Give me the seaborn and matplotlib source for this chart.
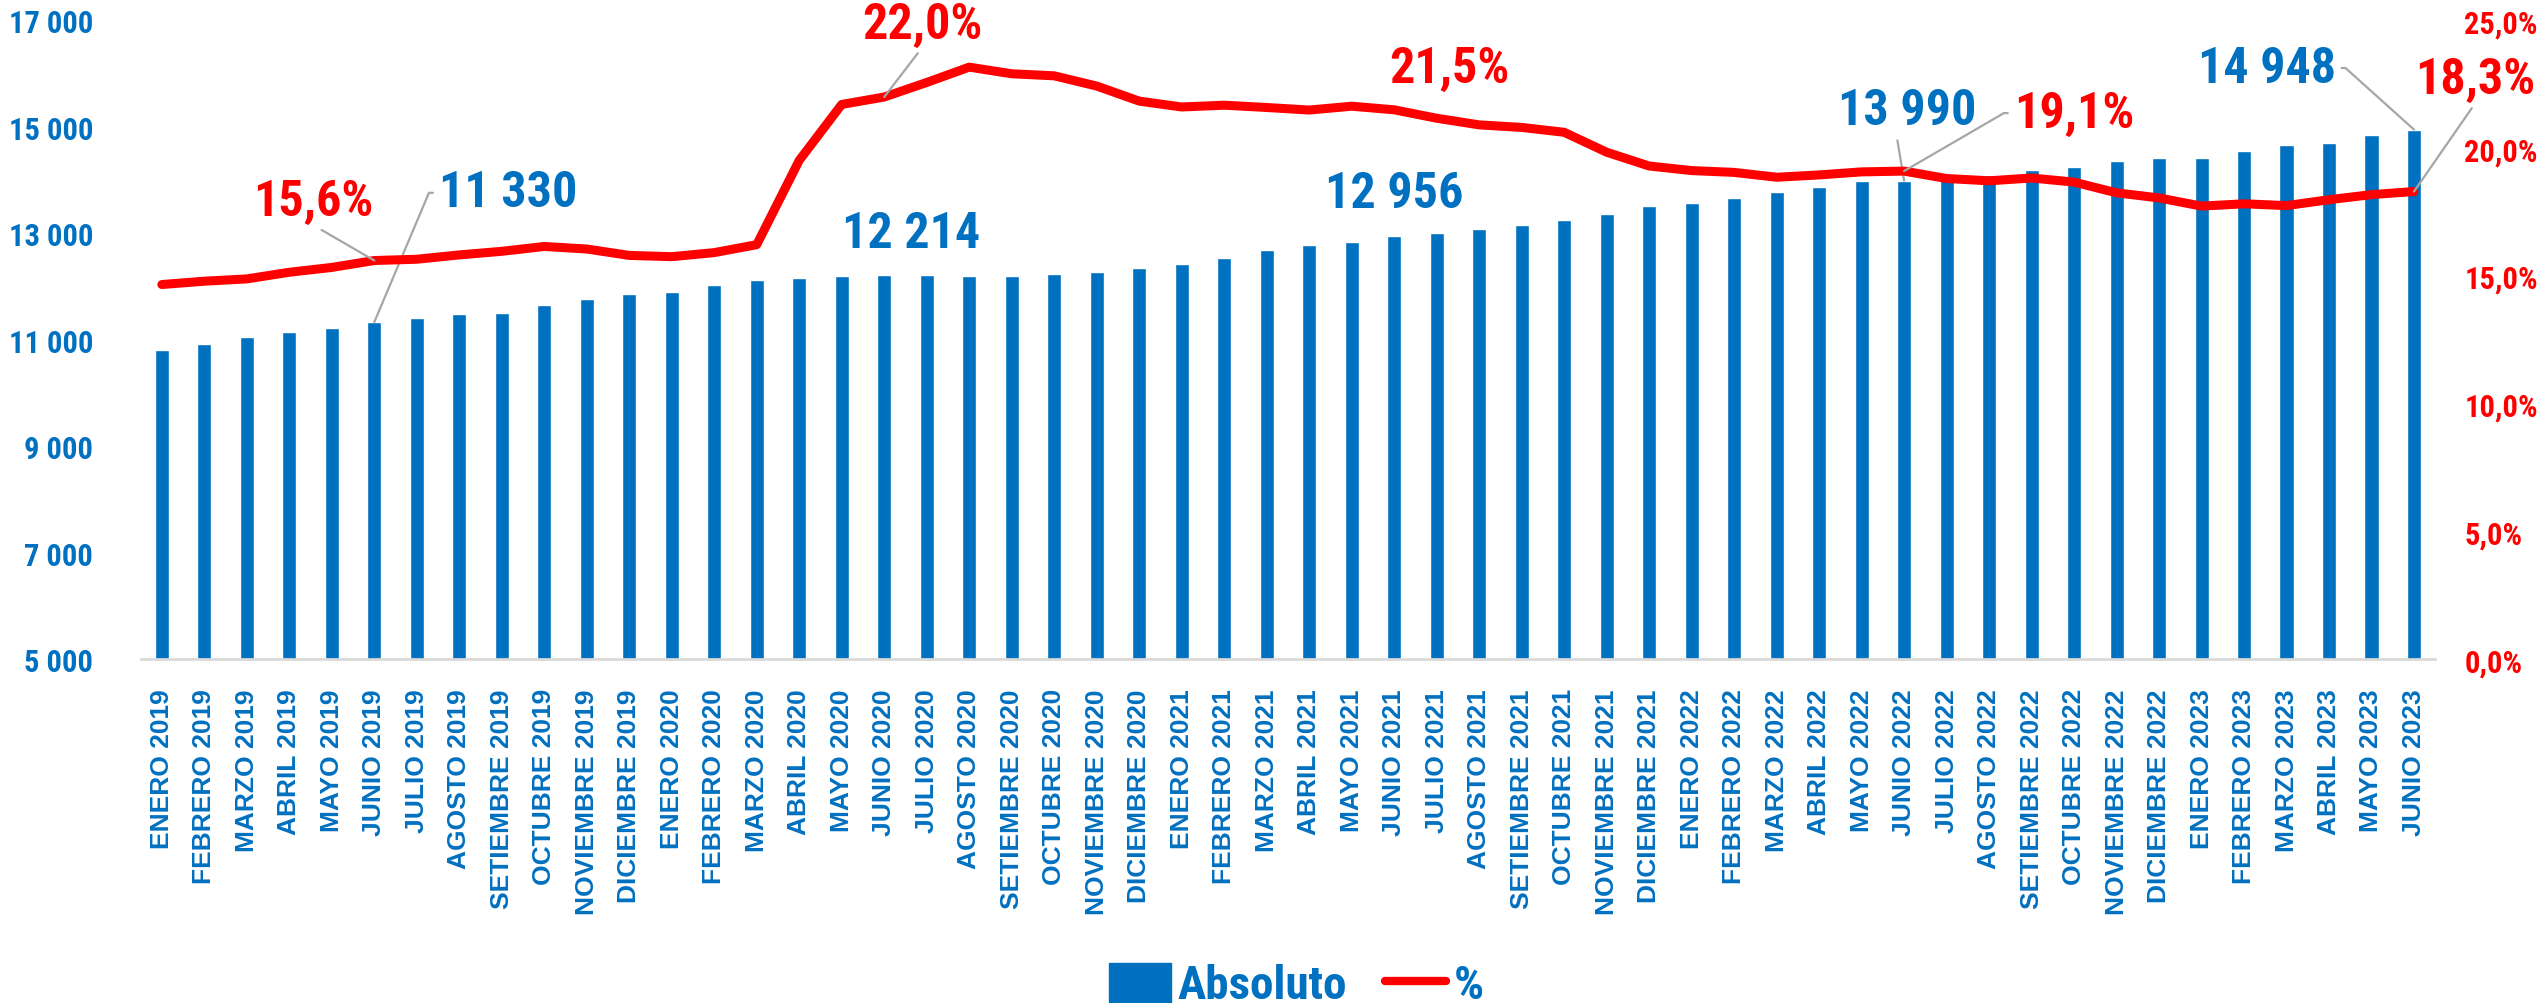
import numpy as np
import pandas as pd
import seaborn as sns
import matplotlib.pyplot as plt
from matplotlib import font_manager as fm
from matplotlib.patches import Patch
from matplotlib.lines import Line2D

# datos
meses = ["ENERO", "FEBRERO", "MARZO", "ABRIL", "MAYO", "JUNIO", "JULIO", "AGOSTO",
         "SETIEMBRE", "OCTUBRE", "NOVIEMBRE", "DICIEMBRE"]
periodos = [f"{m} {a}" for a in (2019, 2020, 2021, 2022, 2023) for m in meses][:54]

absoluto = [10800, 10925, 11050, 11142, 11225, 11330, 11417, 11484, 11500, 11651, 11768, 11851,
            11901, 12035, 12127, 12160, 12202, 12214, 12220, 12200, 12205, 12230, 12270, 12345,
            12427, 12544, 12686, 12786, 12836, 12956, 13003, 13078, 13153, 13253, 13370, 13504,
            13562, 13670, 13779, 13870, 13985, 13990, 14040, 14096, 14188, 14246, 14355, 14421,
            14421, 14555, 14655, 14697, 14839, 14948]

porcentaje = [14.66, 14.79, 14.88, 15.14, 15.33, 15.6, 15.65, 15.82, 15.96, 16.15, 16.05, 15.80,
              15.75, 15.91, 16.22, 19.52, 21.71, 22.0, 22.57, 23.17, 22.91, 22.83, 22.43, 21.84,
              21.61, 21.68, 21.59, 21.49, 21.64, 21.5, 21.17, 20.91, 20.81, 20.62, 19.84, 19.30,
              19.12, 19.05, 18.86, 18.95, 19.07, 19.1, 18.81, 18.72, 18.83, 18.67, 18.25, 18.05,
              17.73, 17.82, 17.75, 17.98, 18.18, 18.3]

df = pd.DataFrame({"periodo": periodos, "absoluto": absoluto,
                   "pct": porcentaje, "pos": range(len(periodos))})

AZUL = "#0070C0"
ROJO = "#FF0000"

nombres = {f.name for f in fm.fontManager.ttflist}
narrow = next((n for n in ["Liberation Sans Narrow", "Roboto Condensed", "DejaVu Sans Condensed",
                           "Open Sans Condensed", "Liberation Sans"] if n in nombres), "DejaVu Sans")
wide = "Liberation Sans" if "Liberation Sans" in nombres else "DejaVu Sans"

sns.set_style("white")
plt.rcParams["font.family"] = [narrow, "DejaVu Sans"]

fig = plt.figure(figsize=(25.42, 10.04), dpi=100)
ax = fig.add_axes([0.0553, 0.3426, 0.9027, 0.6361])

sns.barplot(data=df, x="periodo", y="absoluto", color=AZUL, width=0.33,
            saturation=1, ax=ax, zorder=2)
ax.set_ylim(5000, 17000)
ax.set_xlim(-0.5, len(periodos) - 0.5)
ax.set_yticks(range(5000, 17001, 2000))
ax.set_yticklabels([f"{v:,}".replace(",", " ") for v in range(5000, 17001, 2000)],
                   color=AZUL, fontsize=22, fontweight="bold", family=narrow)
ax.set_xticks(range(len(periodos)))
ax.set_xticklabels(periodos, rotation=90, color=AZUL, fontsize=19,
                   fontweight="bold", family=wide, va="top", ha="center")
ax.tick_params(axis="x", length=0, pad=21)
ax.tick_params(axis="y", length=0, pad=34)
ax.set_xlabel("")
ax.set_ylabel("")
for s in ["top", "left", "right"]:
    ax.spines[s].set_visible(False)
ax.spines["bottom"].set_color("#D9D9D9")
ax.spines["bottom"].set_linewidth(2)

ax2 = ax.twinx()
sns.lineplot(data=df, x="pos", y="pct", color=ROJO, linewidth=6.5, ax=ax2, zorder=3)
ax2.set_ylim(0, 25)
ax2.set_yticks(np.arange(0, 25.1, 5))
ax2.set_yticklabels([f"{v:.1f}%".replace(".", ",") for v in np.arange(0, 25.1, 5)],
                    color=ROJO, fontsize=22, fontweight="bold", family=narrow)
ax2.tick_params(axis="y", length=0, pad=21)
ax2.set_ylabel("")
ax2.set_xlabel("")
for s in ax2.spines.values():
    s.set_visible(False)
ax2.set_xlim(-0.5, len(periodos) - 0.5)

gris = dict(arrowstyle="-", color="#A6A6A6", lw=1.6, shrinkA=2, shrinkB=0)
ktxt = dict(fontsize=36, fontweight="bold", family=narrow, ha="center", va="center",
            annotation_clip=False)

def num(v):
    return f"{v:,}".replace(",", " ")

def pct(v):
    return f"{v:.1f}%".replace(".", ",")

# etiquetas de barras
ax.annotate(num(absoluto[5]), xy=(5, absoluto[5]), xytext=(8.15, 13760), color=AZUL,
            arrowprops=dict(gris, relpos=(0, 0.5),
                            connectionstyle="arc,angleA=180,armA=10,angleB=0,armB=0,rad=0"), **ktxt)
ax.annotate(num(absoluto[17]), xy=(17, absoluto[17]), xytext=(17.63, 13005), color=AZUL, **ktxt)
ax.annotate(num(absoluto[29]), xy=(29, absoluto[29]), xytext=(29.0, 13740), color=AZUL, **ktxt)
ax.annotate(num(absoluto[41]), xy=(41, absoluto[41]), xytext=(41.08, 15300), color=AZUL,
            arrowprops=dict(gris, relpos=(0.42, 0)), **ktxt)
ax.annotate(num(absoluto[53]), xy=(53, absoluto[53]), xytext=(49.53, 16105), color=AZUL,
            arrowprops=dict(gris, relpos=(1, 0.5),
                            connectionstyle="arc,angleA=0,armA=10,angleB=0,armB=0,rad=0"), **ktxt)

# etiquetas de porcentaje
ax2.annotate(pct(porcentaje[5]), xy=(5, porcentaje[5]), xytext=(3.57, 17.9), color=ROJO,
             arrowprops=dict(gris, relpos=(0.5, 0)), **ktxt)
ax2.annotate(pct(porcentaje[17]), xy=(17, porcentaje[17]), xytext=(17.89, 24.85), color=ROJO,
             arrowprops=dict(gris, relpos=(0.5, 0)), **ktxt)
ax2.annotate(pct(porcentaje[29]), xy=(29, porcentaje[29]), xytext=(30.31, 23.13), color=ROJO, **ktxt)
ax2.annotate(pct(porcentaje[41]), xy=(41, porcentaje[41]), xytext=(45.0, 21.37), color=ROJO,
             arrowprops=dict(gris, relpos=(0, 0.5),
                             connectionstyle="arc,angleA=180,armA=10,angleB=0,armB=0,rad=0"), **ktxt)
ax2.annotate(pct(porcentaje[53]), xy=(53, porcentaje[53]), xytext=(54.45, 22.7), color=ROJO,
             arrowprops=dict(gris, relpos=(0.5, 0)), **ktxt)

handles = [Patch(facecolor=AZUL, edgecolor=AZUL, label="Absoluto"),
           Line2D([0], [0], color=ROJO, lw=6, solid_capstyle="round", label="%")]
fig.legend(handles=handles, loc="center", bbox_to_anchor=(0.51, 1 - 986 / 1004), ncol=2,
           frameon=False, labelcolor=AZUL, handlelength=1.3, handleheight=0.9,
           handletextpad=0.15, columnspacing=0.8,
           prop=dict(family=narrow, weight="bold", size=34))

fig.savefig("out.png", dpi=100)
